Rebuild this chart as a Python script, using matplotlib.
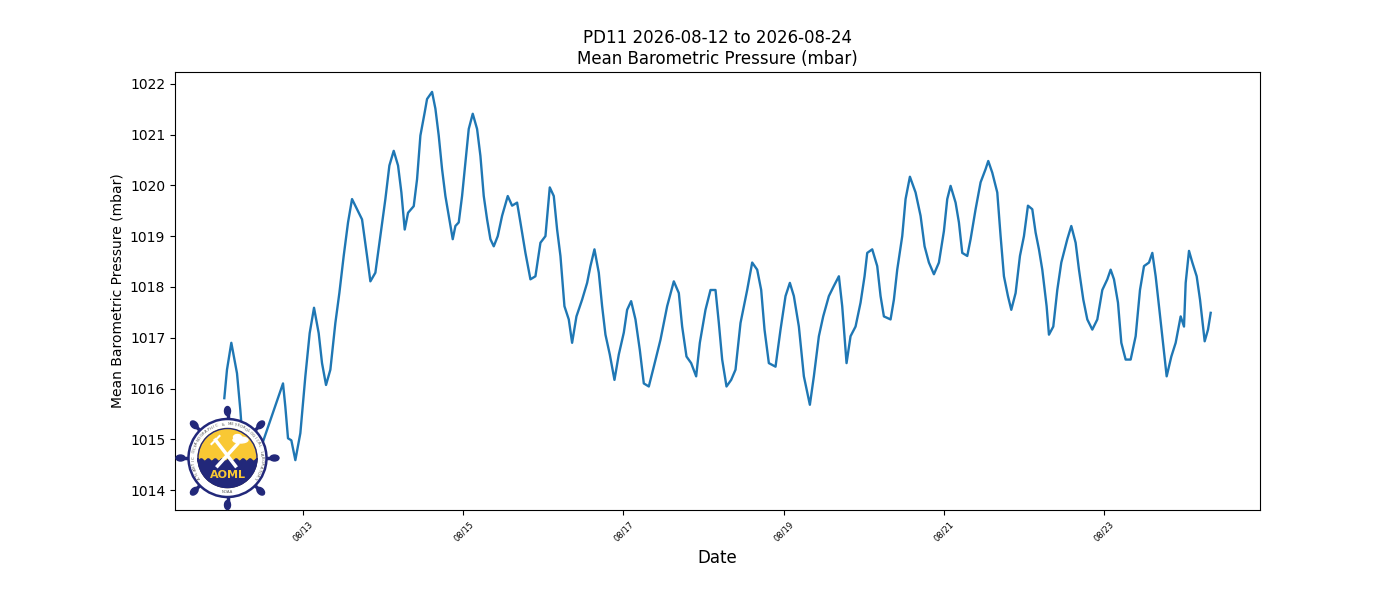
import numpy as np
import pandas as pd
import matplotlib
matplotlib.use("Agg")
import matplotlib.pyplot as plt
import matplotlib.dates as mdates
from matplotlib.patches import Circle, Wedge, Ellipse, Polygon

# hours after 2026-08-12 00:00 and mean pressure (mbar)
hours = [0.3, 1.1, 2.4, 4.1, 5.1, 6.9,
         17.9, 18.6, 19.4, 20.4, 21.6, 23.1, 24.6, 25.9, 27.2, 28.6, 29.6,
         30.8, 32.1, 33.6, 34.8, 36.1, 37.4, 38.6, 40.1, 41.6, 43.1, 44.1,
         45.6, 47.1, 48.6, 49.8, 51.1, 52.4, 53.4, 54.4, 55.4, 57.1, 58.1,
         59.1, 60.4, 61.1, 62.6, 63.6, 64.6, 65.6, 66.6, 67.6, 68.8, 69.6,
         70.6, 71.6, 72.6, 73.6, 74.8, 76.1, 77.1, 78.1, 79.1, 80.1, 81.1,
         82.3, 83.6, 85.3, 86.6, 88.1, 89.1, 90.6, 92.1, 93.6, 95.1, 96.6,
         97.9, 99.1, 100.1, 101.1, 102.3, 103.6, 104.6, 105.9, 107.6, 109.1,
         110.1, 111.3, 112.6, 113.6, 114.6, 115.9, 117.3, 118.6, 120.1,
         121.1, 122.3, 123.6, 124.9, 126.1, 127.6, 129.1, 131.1, 133.1,
         135.1, 136.6, 137.6, 138.9, 140.3, 141.8, 142.9, 144.6, 146.1,
         147.6, 148.6, 149.6, 150.9, 152.3, 153.6, 155.1, 157.1, 158.6,
         160.1, 161.3, 162.3, 163.6, 165.6, 167.1, 168.6, 169.9, 171.1,
         172.6, 174.1, 175.9, 177.1, 178.6, 179.9, 181.6, 183.1, 184.6,
         185.6, 186.9, 188.1, 189.6, 191.1, 192.3, 193.1, 194.6, 196.1,
         197.1, 198.1, 200.1, 201.1, 202.1, 203.6, 204.6, 205.9, 207.6,
         209.1, 210.3, 211.6, 213.1, 214.6, 216.1, 217.1, 218.1, 219.6,
         220.6, 221.6, 223.1, 224.1, 225.6, 227.1, 228.6, 229.4, 230.6,
         232.1, 233.1, 234.1, 235.3, 236.3, 237.6, 238.9, 240.1, 241.3,
         242.6, 243.6, 244.6, 245.6, 246.9, 247.6, 248.9, 250.1, 251.3,
         253.1, 254.3, 255.6, 256.6, 257.9, 259.1, 260.6, 262.1, 263.6,
         265.1, 266.1, 267.1, 268.3, 269.3, 270.6, 272.1, 273.6, 274.9,
         276.1, 277.6, 278.6, 279.6, 280.6, 281.9, 282.9, 284.3, 285.6,
         287.1, 288.1, 288.6, 289.6, 290.6, 291.9, 292.9, 294.3, 295.3, 296.1]
pressure = [1015.81, 1016.37, 1016.90, 1016.30, 1015.58, 1014.00,
            1016.10, 1015.64, 1015.02, 1014.98, 1014.59, 1015.12, 1016.24,
            1017.09, 1017.59, 1017.09, 1016.50, 1016.07, 1016.37, 1017.29,
            1017.88, 1018.61, 1019.27, 1019.73, 1019.53, 1019.33, 1018.61,
            1018.11, 1018.28, 1019.00, 1019.73, 1020.39, 1020.68, 1020.39,
            1019.86, 1019.13, 1019.46, 1019.59, 1020.12, 1020.98, 1021.44,
            1021.70, 1021.84, 1021.51, 1020.98, 1020.32, 1019.79, 1019.40,
            1018.94, 1019.20, 1019.27, 1019.79, 1020.45, 1021.11, 1021.41,
            1021.11, 1020.58, 1019.79, 1019.33, 1018.94, 1018.80, 1019.00,
            1019.40, 1019.79, 1019.60, 1019.66, 1019.27, 1018.67, 1018.15,
            1018.21, 1018.87, 1019.00, 1019.96, 1019.79, 1019.13, 1018.61,
            1017.62, 1017.36, 1016.90, 1017.42, 1017.75, 1018.08, 1018.41,
            1018.74, 1018.28, 1017.62, 1017.06, 1016.67, 1016.17, 1016.67,
            1017.10, 1017.55, 1017.72, 1017.36, 1016.76, 1016.10, 1016.04,
            1016.43, 1016.96, 1017.62, 1018.11, 1017.88, 1017.22, 1016.63,
            1016.50, 1016.24, 1016.90, 1017.55, 1017.94, 1017.94, 1017.29,
            1016.57, 1016.04, 1016.17, 1016.37, 1017.29, 1017.94, 1018.48,
            1018.34, 1017.94, 1017.16, 1016.50, 1016.43, 1017.16, 1017.82,
            1018.08, 1017.82, 1017.22, 1016.24, 1015.68, 1016.24, 1017.03,
            1017.42, 1017.82, 1018.02, 1018.21, 1017.62, 1016.50, 1017.03,
            1017.22, 1017.69, 1018.21, 1018.67, 1018.74, 1018.41, 1017.82,
            1017.42, 1017.36, 1017.75, 1018.34, 1019.00, 1019.73, 1020.17,
            1019.86, 1019.40, 1018.80, 1018.48, 1018.25, 1018.48, 1019.10,
            1019.73, 1019.99, 1019.66, 1019.27, 1018.67, 1018.61, 1018.94,
            1019.53, 1020.06, 1020.32, 1020.48, 1020.25, 1019.86, 1019.00,
            1018.21, 1017.82, 1017.55, 1017.88, 1018.61, 1019.00, 1019.60,
            1019.53, 1019.07, 1018.74, 1018.34, 1017.62, 1017.06, 1017.22,
            1017.94, 1018.48, 1018.94, 1019.20, 1018.87, 1018.34, 1017.75,
            1017.36, 1017.16, 1017.36, 1017.94, 1018.15, 1018.34, 1018.15,
            1017.69, 1016.90, 1016.57, 1016.57, 1017.03, 1017.94, 1018.41,
            1018.48, 1018.67, 1018.21, 1017.62, 1016.83, 1016.24, 1016.63,
            1016.90, 1017.42, 1017.22, 1018.08, 1018.71, 1018.48, 1018.21,
            1017.75, 1016.93, 1017.16, 1017.49]

station = "PD11"
start, end = "2026-08-12", "2026-08-24"

times = pd.Timestamp(start) + pd.to_timedelta(hours, unit="h")

fig, ax = plt.subplots(figsize=(14, 6), dpi=100)
fig.subplots_adjust(left=0.125, right=0.9, top=0.88, bottom=0.15)
ax.plot(times, pressure, c="tab:blue", lw=1.7)
ax.set_title(f"{station} {start} to {end}\nMean Barometric Pressure (mbar)", fontsize=12)
ax.set_ylabel("Mean Barometric Pressure (mbar)")
ax.set_xlabel("Date", fontsize=12)
ax.xaxis.set_major_locator(mdates.DayLocator(bymonthday=range(1, 32, 2)))
ax.xaxis.set_major_formatter(mdates.DateFormatter("%m/%d"))
plt.setp(ax.get_xticklabels(), rotation=45, fontsize=6)

# rough AOML logo in the lower left corner
navy = "#22287a"
gold = "#f9c834"
lg = fig.add_axes([0.1625 - 0.0393, 0.2367 - 0.0917, 0.0786, 0.1833])
lg.set_xlim(-55, 55)
lg.set_ylim(-55, 55)
lg.set_aspect("equal")
lg.axis("off")
for a in np.arange(0, 360, 45):
    r = np.deg2rad(a)
    lg.plot([0, 45 * np.cos(r)], [0, 45 * np.sin(r)], c=navy, lw=2.5,
            solid_capstyle="round", zorder=0.5)
    lg.add_patch(Ellipse((47 * np.cos(r), 47 * np.sin(r)), 9, 6, angle=a,
                         color=navy, zorder=0.5))
lg.add_patch(Circle((0, 0), 39, fc="white", ec=navy, lw=1.8, zorder=1))
lg.add_patch(Circle((0, 0), 29.5, color=gold, zorder=1.1))
wx = np.linspace(-29.5, 29.5, 60)
wy = -2 + 1.2 * np.sin(wx * 0.9)
bx = np.concatenate([wx, 29.5 * np.cos(np.linspace(0, -np.pi, 60))])
by = np.concatenate([wy, 29.5 * np.sin(np.linspace(0, -np.pi, 60))])
lg.add_patch(Polygon(np.column_stack([bx, by]), color=navy, zorder=1.2))
lg.add_patch(Circle((0, 0), 29.5, fc="none", ec=navy, lw=1, zorder=1.3))
lg.plot([-12, 8], [18, -8], c="white", lw=2.5, zorder=1.4)
lg.plot([-10, 10], [-8, 14], c="white", lw=2.5, zorder=1.4)
lg.plot([-16, -12, -8], [14, 18, 22], c="white", lw=1.5, zorder=1.4)
lg.add_patch(Ellipse((13, 18), 15, 6, color="white", zorder=1.4))
lg.add_patch(Ellipse((10, 21), 8, 5, color="white", zorder=1.4))
lg.text(0, -17, "AOML", color=gold, fontsize=8, fontweight="bold",
        ha="center", va="center", zorder=1.5)
ring = "ATLANTIC OCEANOGRAPHIC & METEOROLOGICAL LABORATORY"
for i, ch in enumerate(ring):
    a = 215 - i * 250 / (len(ring) - 1)
    r = np.deg2rad(a)
    lg.text(34 * np.cos(r), 34 * np.sin(r), ch, fontsize=2.8, color="#555555",
            rotation=a - 90, ha="center", va="center", zorder=1.5)
lg.text(0, -34, "NOAA", fontsize=2.8, color="#555555", ha="center", va="center", zorder=1.5)

fig.savefig("out.png", dpi=100)
